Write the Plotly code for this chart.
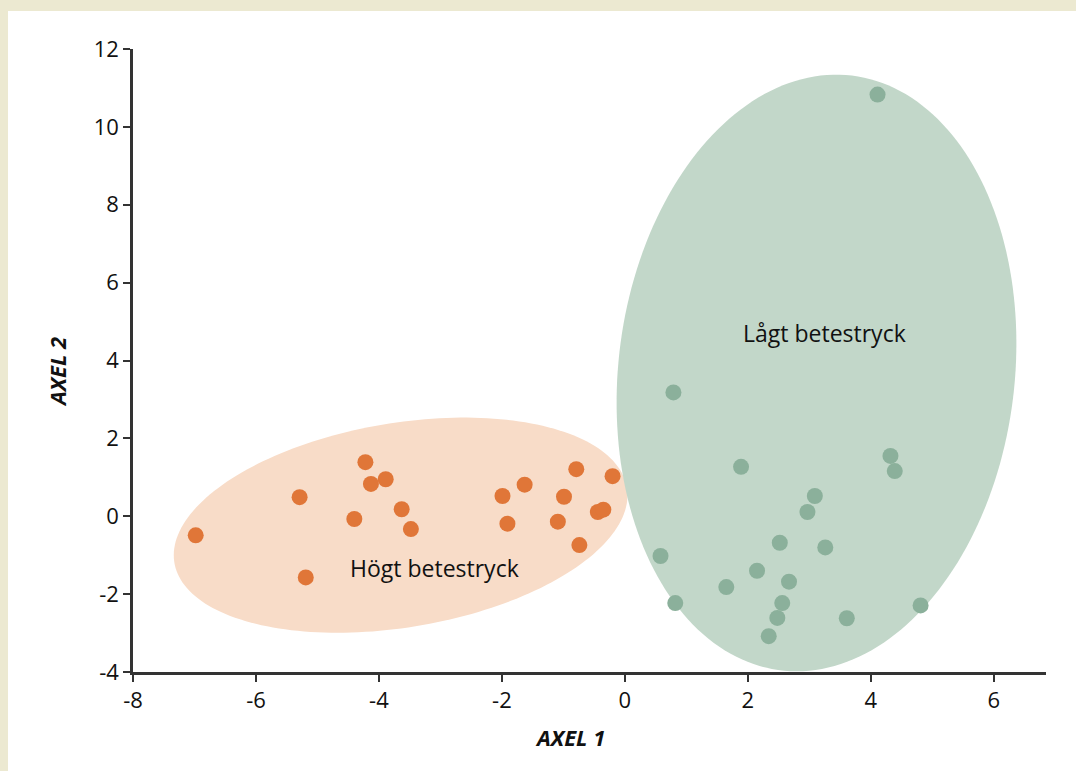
import numpy as np
import plotly.graph_objects as go

# ---- data ----
hogt_x = [-6.98, -5.29, -5.19, -4.22, -4.13, -3.89, -4.40, -3.63, -3.48,
          -1.99, -1.63, -1.91, -0.79, -0.99, -0.20, -1.09, -0.74, -0.44, -0.35]
hogt_y = [-0.49, 0.49, -1.57, 1.39, 0.83, 0.95, -0.07, 0.18, -0.33,
          0.52, 0.81, -0.19, 1.21, 0.50, 1.03, -0.14, -0.74, 0.11, 0.17]

lagt_x = [4.11, 0.79, 1.89, 4.32, 4.39, 3.09, 2.97, 2.52, 3.26, 0.58,
          2.15, 2.67, 1.65, 0.82, 2.56, 4.81, 2.48, 3.61, 2.34]
lagt_y = [10.83, 3.18, 1.27, 1.55, 1.16, 0.52, 0.11, -0.68, -0.80, -1.02,
          -1.40, -1.68, -1.82, -2.23, -2.23, -2.29, -2.61, -2.62, -3.08]

x_tick_vals = [-8, -6, -4, -2, 0, 2, 4, 6]
x_tick_text = ["-8", "-6", "-4", "-2", "0", "2", "4", "6"]
y_tick_vals = [-4, -2, 0, 2, 4, 6, 8, 10, 12]
y_tick_text = ["-4", "-2", "0", "2", "4", "6", "8", "10", "12"]

group_labels = ["Högt betestryck", "Lågt betestryck"]
label_x = [-3.10, 3.24]
label_y = [-1.33, 4.71]

x_title = "AXEL 1"
y_title = "AXEL 2"

# ellipse parameters (centre, half-axis vectors in data units)
ell_hogt = dict(c=(-3.647, -0.229), a=(3.68, 0.964), b=(-0.271, 2.589))
ell_lagt = dict(c=(3.117, 3.679), a=(0.576, 7.638), b=(-3.200, 0.604))

# ---- styles ----
ORANGE = "#e07638"
ORANGE_FILL = "#f8dcc8"
GREEN = "#8bb09b"
GREEN_FILL = "#c2d7c9"
BEIGE = "#ece9d1"
AXIS = "#333333"
TEXT = "#111111"
FONT = "Open Sans"


def ellipse_path(e, n=200):
    t = np.linspace(0, 2 * np.pi, n)
    cx, cy = e["c"]
    ax_, ay_ = e["a"]
    bx, by = e["b"]
    xs = cx + ax_ * np.cos(t) + bx * np.sin(t)
    ys = cy + ay_ * np.cos(t) + by * np.sin(t)
    pts = [f"{x:.4f},{y:.4f}" for x, y in zip(xs, ys)]
    return "M " + " L ".join(pts) + " Z"


fig = go.Figure()

fig.add_trace(go.Scatter(x=hogt_x, y=hogt_y, mode="markers",
                         marker=dict(size=16, color=ORANGE, line=dict(width=0)),
                         name=group_labels[0], showlegend=False))
fig.add_trace(go.Scatter(x=lagt_x, y=lagt_y, mode="markers",
                         marker=dict(size=16, color=GREEN, line=dict(width=0)),
                         name=group_labels[1], showlegend=False))

shapes = [
    # white panel over beige frame
    dict(type="rect", xref="paper", yref="paper", x0=-0.1369, x1=1.2, y0=-0.3, y1=1.061,
         fillcolor="white", line=dict(width=0), layer="below"),
    dict(type="path", xref="x", yref="y", path=ellipse_path(ell_hogt),
         fillcolor=ORANGE_FILL, line=dict(width=0), layer="below"),
    dict(type="path", xref="x", yref="y", path=ellipse_path(ell_lagt),
         fillcolor=GREEN_FILL, line=dict(width=0), layer="below"),
]

annotations = [
    dict(x=lx, y=ly, xref="x", yref="y", text=t, showarrow=False,
         font=dict(family=FONT, size=23, color=TEXT))
    for t, lx, ly in zip(group_labels, label_x, label_y)
]
annotations.append(dict(x=0.4786, y=-0.104, xref="paper", yref="paper",
                        text=f"<b><i>{x_title}</i></b>", showarrow=False,
                        xanchor="center", yanchor="middle",
                        font=dict(family=FONT, size=22, color=TEXT)))
annotations.append(dict(x=-0.0832, y=0.4815, xref="paper", yref="paper",
                        text=f"<b><i>{y_title}</i></b>", showarrow=False, textangle=-90,
                        xanchor="center", yanchor="middle",
                        font=dict(family=FONT, size=22, color=TEXT)))

axis_common = dict(showgrid=False, zeroline=False, showline=True, linecolor=AXIS,
                   linewidth=2.5, ticks="outside", ticklen=7, tickwidth=2,
                   tickcolor=AXIS, tickfont=dict(family=FONT, size=22, color=TEXT))

fig.update_layout(
    width=1076, height=771,
    margin=dict(l=133, r=30, t=49, b=99),
    paper_bgcolor=BEIGE,
    plot_bgcolor="rgba(0,0,0,0)",
    shapes=shapes,
    annotations=annotations,
    font=dict(family=FONT, size=22, color=TEXT),
    xaxis=dict(range=[-8, 6.85], tickvals=x_tick_vals, ticktext=x_tick_text, **axis_common),
    yaxis=dict(range=[-4, 12], tickvals=y_tick_vals, ticktext=y_tick_text, **axis_common),
)

fig.write_html("out.html",
               config={"displayModeBar": False},
               post_script="document.body.style.margin='0px';document.body.style.overflow='hidden';")
